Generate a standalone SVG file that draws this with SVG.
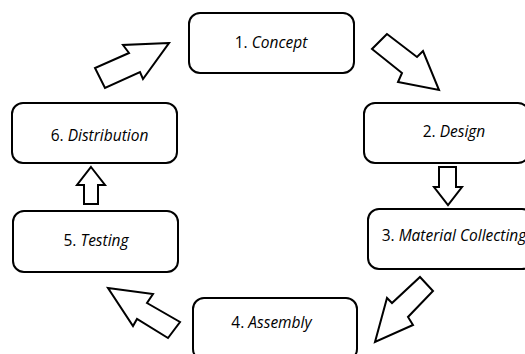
<svg xmlns="http://www.w3.org/2000/svg" width="525" height="354" viewBox="0 0 525 354">
<style>
.box{fill:#fff;stroke:#000;stroke-width:2}
.arr{fill:#fff;stroke:#000;stroke-width:2;stroke-linejoin:miter}
.lbl{font-family:"Open Sans","Liberation Sans",sans-serif;font-size:15.5px;fill:#000;text-anchor:middle}
.it{font-style:italic}
</style>
<rect width="525" height="354" fill="#fff"/>
<g id="connectors">
<polygon class="arr" points="169,43 123,45 129,53 95,68 105,88 140,72 143,79"/>
<polygon class="arr" points="387,34 372,49 402,73 398,82 439,90 423,51 417,57"/>
<polygon class="arr" points="439,167 456,167 456,187 462,187 448,205 434,187 439,187"/>
<polygon class="arr" points="420,277 433,291 408,317 413,325 375,342 387,298 392,303"/>
<polygon class="arr" points="108,288 153,294 147,303 180,322 168,338 137,319 133,326"/>
<polygon class="arr" points="91,167 105,185 98,185 98,204 84,204 84,185 77,185"/>
</g>
<g id="node1"><rect class="box" x="189" y="13" width="165" height="60" rx="11"/><text class="lbl" x="271" y="48">1. <tspan class="it">Concept</tspan></text></g>
<g id="node2"><rect class="box" x="364" y="103" width="165" height="60" rx="11"/><text class="lbl" x="454" y="137">2. <tspan class="it">Design</tspan></text></g>
<g id="node3"><rect class="box" x="368" y="209" width="165" height="60" rx="11"/><text class="lbl" x="454" y="241">3. <tspan class="it">Material Collecting</tspan></text></g>
<g id="node4"><rect class="box" x="193" y="298" width="164" height="62" rx="11"/><text class="lbl" x="271.5" y="328">4. <tspan class="it">Assembly</tspan></text></g>
<g id="node5"><rect class="box" x="13" y="211" width="165" height="61" rx="11"/><text class="lbl" x="96" y="246">5. <tspan class="it">Testing</tspan></text></g>
<g id="node6"><rect class="box" x="12" y="103" width="165" height="60" rx="11"/><text class="lbl" x="99.5" y="141">6. <tspan class="it">Distribution</tspan></text></g>
</svg>
